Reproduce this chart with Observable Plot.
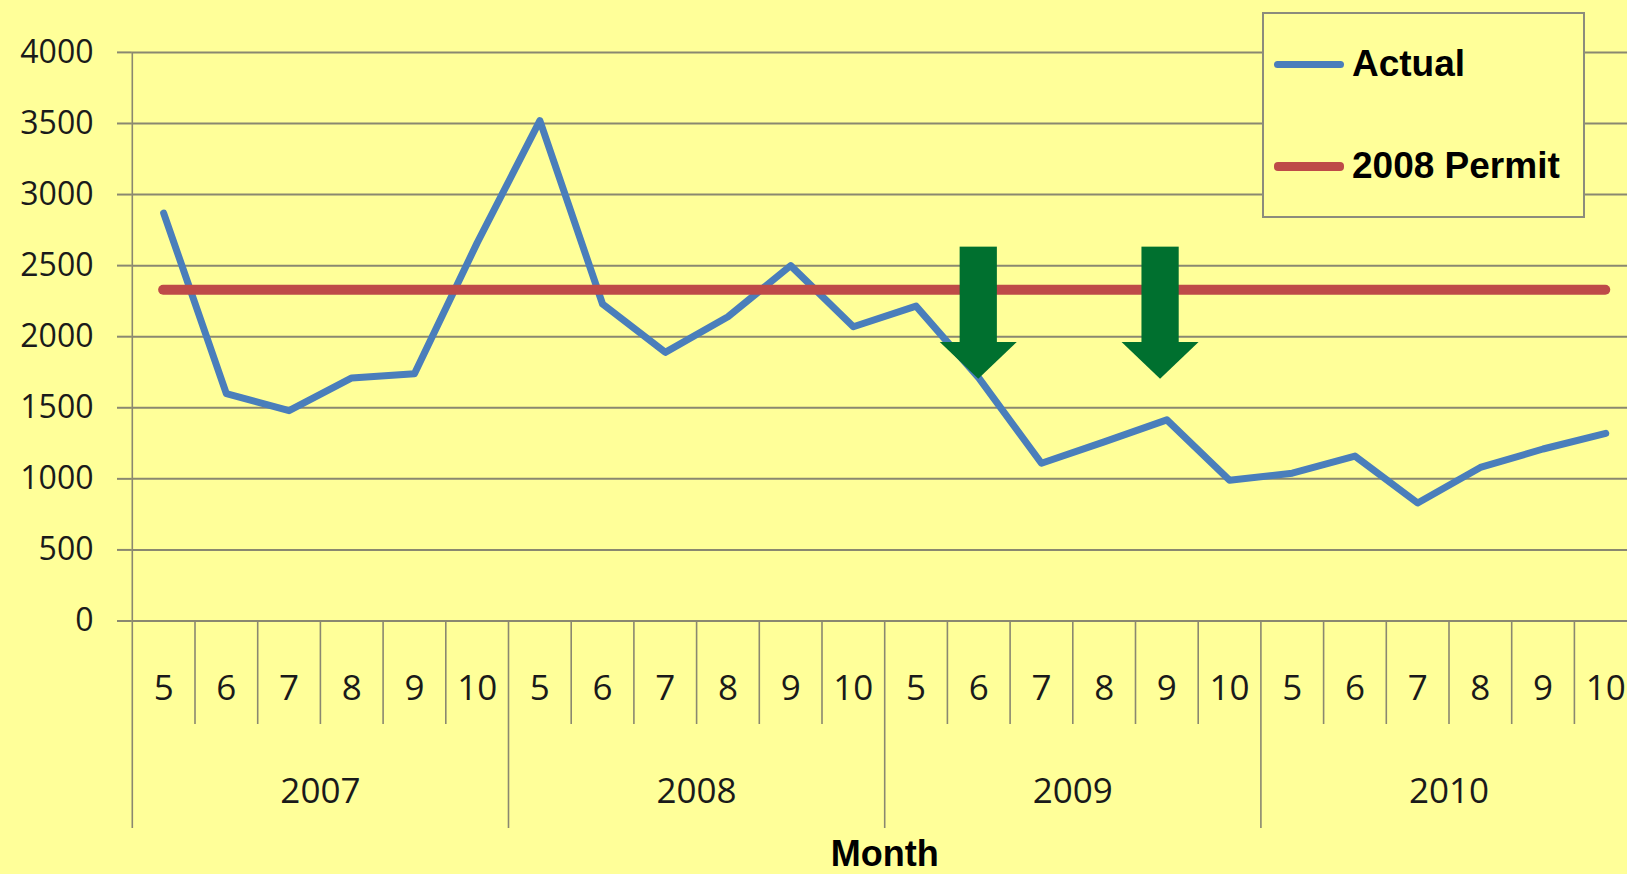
<!DOCTYPE html>
<html><head><meta charset="utf-8">
<script src="https://cdn.jsdelivr.net/npm/d3@7"></script>
<script src="https://cdn.jsdelivr.net/npm/@observablehq/plot@0.6"></script>
<style>
html,body{margin:0;padding:0;background:#FFFF99;overflow:hidden;}
#wrap{position:relative;width:1627px;height:874px;overflow:hidden;background:#FFFF99;}
#wrap svg{display:block;}
.legend{position:absolute;left:1262px;top:12px;width:319px;height:202px;border:2px solid #8c8c7c;background:#FFFF99;font-family:"Liberation Sans",Arial,sans-serif;font-weight:bold;font-size:37px;color:#000;}
.row{position:absolute;left:10px;height:40px;display:flex;align-items:center;white-space:nowrap;}
.sw{width:70px;height:7px;border-radius:4px;margin-right:8px;flex:none;}
</style></head><body><div id="wrap"></div>
<script>
// ---- data ----
const monthLabels = ["5","6","7","8","9","10","5","6","7","8","9","10","5","6","7","8","9","10","5","6","7","8","9","10"];
const years = ["2007","2008","2009","2010"];
const actual = [2870,1600,1480,1710,1740,2660,3520,2230,1890,2140,2500,2070,2215,1710,1110,1260,1415,990,1040,1160,830,1080,1210,1320];
const permit2008 = [2330];
const yTicks = [0,500,1000,1500,2000,2500,3000,3500,4000];
const seriesNames = ["Actual","2008 Permit"];
const arrowMonths = [13, 15.9];           // month index positions (2009-6, 2009-9)
const arrowShaftTop = [2630];
const arrowHeadBase = [1960];
const arrowTip = [1700];

// ---- styles ----
const blue = "#4A7EBB", red = "#BE4B48", green = "#00702F";
const gridColor = "#8a8870", axisColor = "#8a8870";

const idx = monthLabels.map((_, i) => i);
const perYear = monthLabels.length / years.length;
const yearBounds = d3.range(years.length + 1).map(k => k * perYear - 0.5);
const monthBounds = d3.range(1, monthLabels.length).map(i => i - 0.5).filter(b => !yearBounds.includes(b));
const yearCenters = years.map((y, k) => ({year: y, x: k * perYear + (perYear - 1) / 2}));

const headHalf = 0.614, shaftHalf = 0.297;
const hb = arrowHeadBase[0], tip = arrowTip[0];
const heads = arrowMonths.flatMap((m, k) => [
  {k, x: m - headHalf, y1: hb, y2: hb},
  {k, x: m, y1: hb, y2: tip},
  {k, x: m + headHalf, y1: hb, y2: hb}
]);

const plot = Plot.plot({
  width: 1637, height: 874,
  marginLeft: 131.8, marginRight: 0.4, marginTop: 51.9, marginBottom: 253.5,
  x: {type: "linear", domain: [-0.5, monthLabels.length - 0.5], axis: null},
  y: {type: "linear", domain: [0, 4000], axis: null},
  style: {background: "#FFFF99", maxWidth: "none", fontFamily: "'Open Sans', sans-serif", color: "#1a1a1a"},
  marks: [
    Plot.gridY(yTicks, {stroke: gridColor, strokeOpacity: 1, strokeWidth: 2}),
    Plot.axisY(yTicks, {label: null, tickSize: 14.8, tickPadding: 24, stroke: gridColor, strokeWidth: 2, fill: "#1a1a1a", fontSize: 32, tickFormat: d => String(d)}),
    Plot.ruleX([yearBounds[0]], {stroke: axisColor, strokeWidth: 1.6, insetBottom: -207.5}),
    Plot.ruleX(monthBounds, {y1: 0, y2: 0, insetBottom: -103.5, stroke: axisColor, strokeWidth: 1.6}),
    Plot.ruleX(yearBounds.slice(1), {y1: 0, y2: 0, insetBottom: -207.5, stroke: axisColor, strokeWidth: 1.6}),
    Plot.text(idx, {x: d => d, frameAnchor: "bottom", lineAnchor: "middle", dy: 68, text: i => monthLabels[i], fontSize: 35, fill: "#1a1a1a"}),
    Plot.text(yearCenters, {x: "x", text: "year", frameAnchor: "bottom", lineAnchor: "middle", dy: 171, fontSize: 35, fill: "#1a1a1a"}),
    Plot.text(["Month"], {x: (monthLabels.length - 1) / 2, text: d => d, frameAnchor: "bottom", lineAnchor: "middle", dy: 233, fontSize: 36, fontWeight: "bold", fontFamily: "'Liberation Sans', Arial, sans-serif", fill: "#000"}),
    Plot.lineY(actual, {x: (d, i) => i, y: d => d, stroke: blue, strokeWidth: 7, strokeLinejoin: "round"}),
    Plot.ruleY(permit2008, {x1: 0, x2: monthLabels.length - 1, stroke: red, strokeWidth: 10, strokeLinecap: "round"}),
    Plot.rect(arrowMonths, {x1: m => m - shaftHalf, x2: m => m + shaftHalf, y1: (hb + tip) / 2, y2: arrowShaftTop[0], fill: green}),
    Plot.areaY(heads, {x: "x", y1: "y1", y2: "y2", z: "k", fill: green})
  ]
});
const wrap = document.getElementById("wrap");
wrap.appendChild(plot);

// legend overlay
const legend = document.createElement("div");
legend.className = "legend";
[blue, red].forEach((c, i) => {
  const row = document.createElement("div");
  row.className = "row";
  row.style.top = (i === 0 ? 30 : 132) + "px";
  const sw = document.createElement("span");
  sw.className = "sw"; sw.style.background = c; sw.style.height = (i === 0 ? 7 : 9) + "px";
  const t = document.createElement("span");
  t.textContent = seriesNames[i];
  row.appendChild(sw); row.appendChild(t);
  legend.appendChild(row);
});
wrap.appendChild(legend);
</script>
</body></html>
